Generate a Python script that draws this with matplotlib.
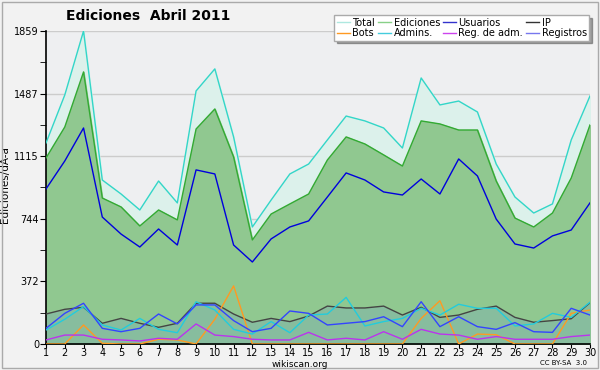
import matplotlib.pyplot as plt
from matplotlib.patches import Rectangle

days = list(range(1, 31))
total = [1194, 1479, 1859, 974, 891, 796, 968, 838, 1503, 1634, 1230, 695, 855, 1010, 1069,
         1212, 1354, 1325, 1283, 1164, 1580, 1420, 1443, 1378, 1069, 873, 778, 832, 1212, 1473]
ediciones = [1105, 1289, 1616, 867, 814, 701, 796, 737, 1277, 1396, 1111, 618, 772, 832, 891,
             1093, 1230, 1188, 1123, 1057, 1325, 1307, 1271, 1271, 968, 748, 695, 778, 986, 1301]
usuarios = [921, 1087, 1283, 754, 653, 576, 683, 588, 1034, 1010, 588, 487, 624, 695, 731,
            873, 1016, 974, 903, 885, 980, 891, 1099, 998, 742, 594, 570, 642, 677, 838]
ip = [178, 206, 218, 123, 152, 123, 99, 123, 242, 242, 178, 129, 152, 133, 166,
      225, 214, 214, 225, 172, 218, 158, 172, 206, 225, 158, 129, 139, 150, 245]
bots = [0, 0, 113, 4, 0, 0, 28, 24, 0, 147, 345, 0, 0, 0, 0,
        0, 0, 0, 0, 0, 152, 257, 0, 59, 55, 0, 0, 0, 182, 202]
admins = [83, 147, 222, 113, 83, 152, 87, 67, 251, 202, 87, 59, 133, 67, 172,
          178, 277, 107, 133, 152, 212, 172, 236, 212, 212, 107, 119, 182, 158, 248]
reg_adm = [24, 53, 53, 28, 24, 18, 34, 28, 119, 53, 44, 28, 24, 24, 69,
           24, 34, 24, 73, 28, 87, 59, 53, 28, 44, 28, 28, 28, 44, 53]
registros = [93, 182, 242, 93, 73, 93, 178, 119, 232, 232, 139, 73, 93, 196, 182,
             113, 123, 133, 162, 103, 251, 103, 162, 103, 87, 127, 73, 69, 212, 172]
yticks = [0, 372, 744, 1115, 1487, 1859]

fig = plt.figure(figsize=(6, 3.7), dpi=100, facecolor='#f2f2f2')
fig.patches.append(Rectangle((0.004, 0.006), 0.992, 0.988, transform=fig.transFigure,
                             fill=False, edgecolor='#aaaaaa', lw=1))
ax = fig.add_axes([0.0767, 0.0703, 0.9066, 0.8459])
ax.set_facecolor('#eeeff1')

ax.fill_between(days, total, color='#dcf1eb', zorder=1)
ax.plot(days, total, color='#33d6c8', lw=1, zorder=3)
ax.fill_between(days, ediciones, color='#90c890', zorder=2)
ax.plot(days, ediciones, color='#33aa33', lw=1, zorder=3)
ax.fill_between(days, ip, color='#6f9fc8', alpha=0.25, lw=0, zorder=2)
ax.plot(days, usuarios, color='#0000dd', lw=1, zorder=4)

ax.plot(days, ip, color='#444444', lw=1, zorder=4)
ax.plot(days, bots, color='#ff9922', lw=1, zorder=4)
ax.plot(days, admins, color='#22ccdd', lw=1, zorder=4)
ax.plot(days, reg_adm, color='#bb33ee', lw=1, zorder=4)
ax.plot(days, registros, color='#3344ff', lw=1, zorder=4)

ax.set_xlim(1, 30)
ax.set_ylim(0, 1859)
ax.set_xticks(days)
ax.set_yticks(yticks)
ax.set_yticks([186, 558, 930, 1301, 1673], minor=True)
ax.grid(axis='y', color='#cccccc', lw=1, zorder=0)
ax.set_axisbelow(True)
for s in ['top', 'right']:
    ax.spines[s].set_visible(False)
ax.spines['left'].set_linewidth(1.2)
ax.spines['bottom'].set_linewidth(1.2)
ax.tick_params(axis='y', labelsize=7, length=4, pad=1)
ax.tick_params(axis='x', labelsize=7, length=3, pad=0)
ax.tick_params(which='minor', length=4)
ax.set_ylabel('Ediciones/dÃ-a', fontsize=7.5)
ax.yaxis.set_label_coords(-0.066, 0.508)

fig.text(0.247, 0.957, 'Ediciones  Abril 2011', ha='center', va='center',
         fontsize=10, fontweight='bold')
fig.text(0.5, 0.015, 'wikiscan.org', ha='center', va='center', fontsize=6.5)
fig.text(0.94, 0.018, 'CC BY-SA  3.0', ha='center', va='center', fontsize=5)

labels = ['Total', 'Bots', 'Ediciones', 'Admins.', 'Usuarios', 'Reg. de adm.', 'IP', 'Registros']
colors = ['#aee8e0', '#ff9922', '#88d088', '#44ccdd', '#3333cc', '#cc44ee', '#333333', '#7777ee']
handles = [plt.Line2D([], [], color=c, lw=1) for c in colors]
leg = fig.legend(handles, labels, ncol=4, loc='upper right', bbox_to_anchor=(0.99, 0.972),
                 fontsize=7, frameon=True, fancybox=False, shadow=True, handlelength=1.3,
                 handletextpad=0.3, columnspacing=0.3, labelspacing=0.05, borderpad=0.25)
leg.get_frame().set_edgecolor('#aaaaaa')
leg.get_frame().set_facecolor('white')

fig.savefig('out.png', dpi=100, facecolor=fig.get_facecolor())
